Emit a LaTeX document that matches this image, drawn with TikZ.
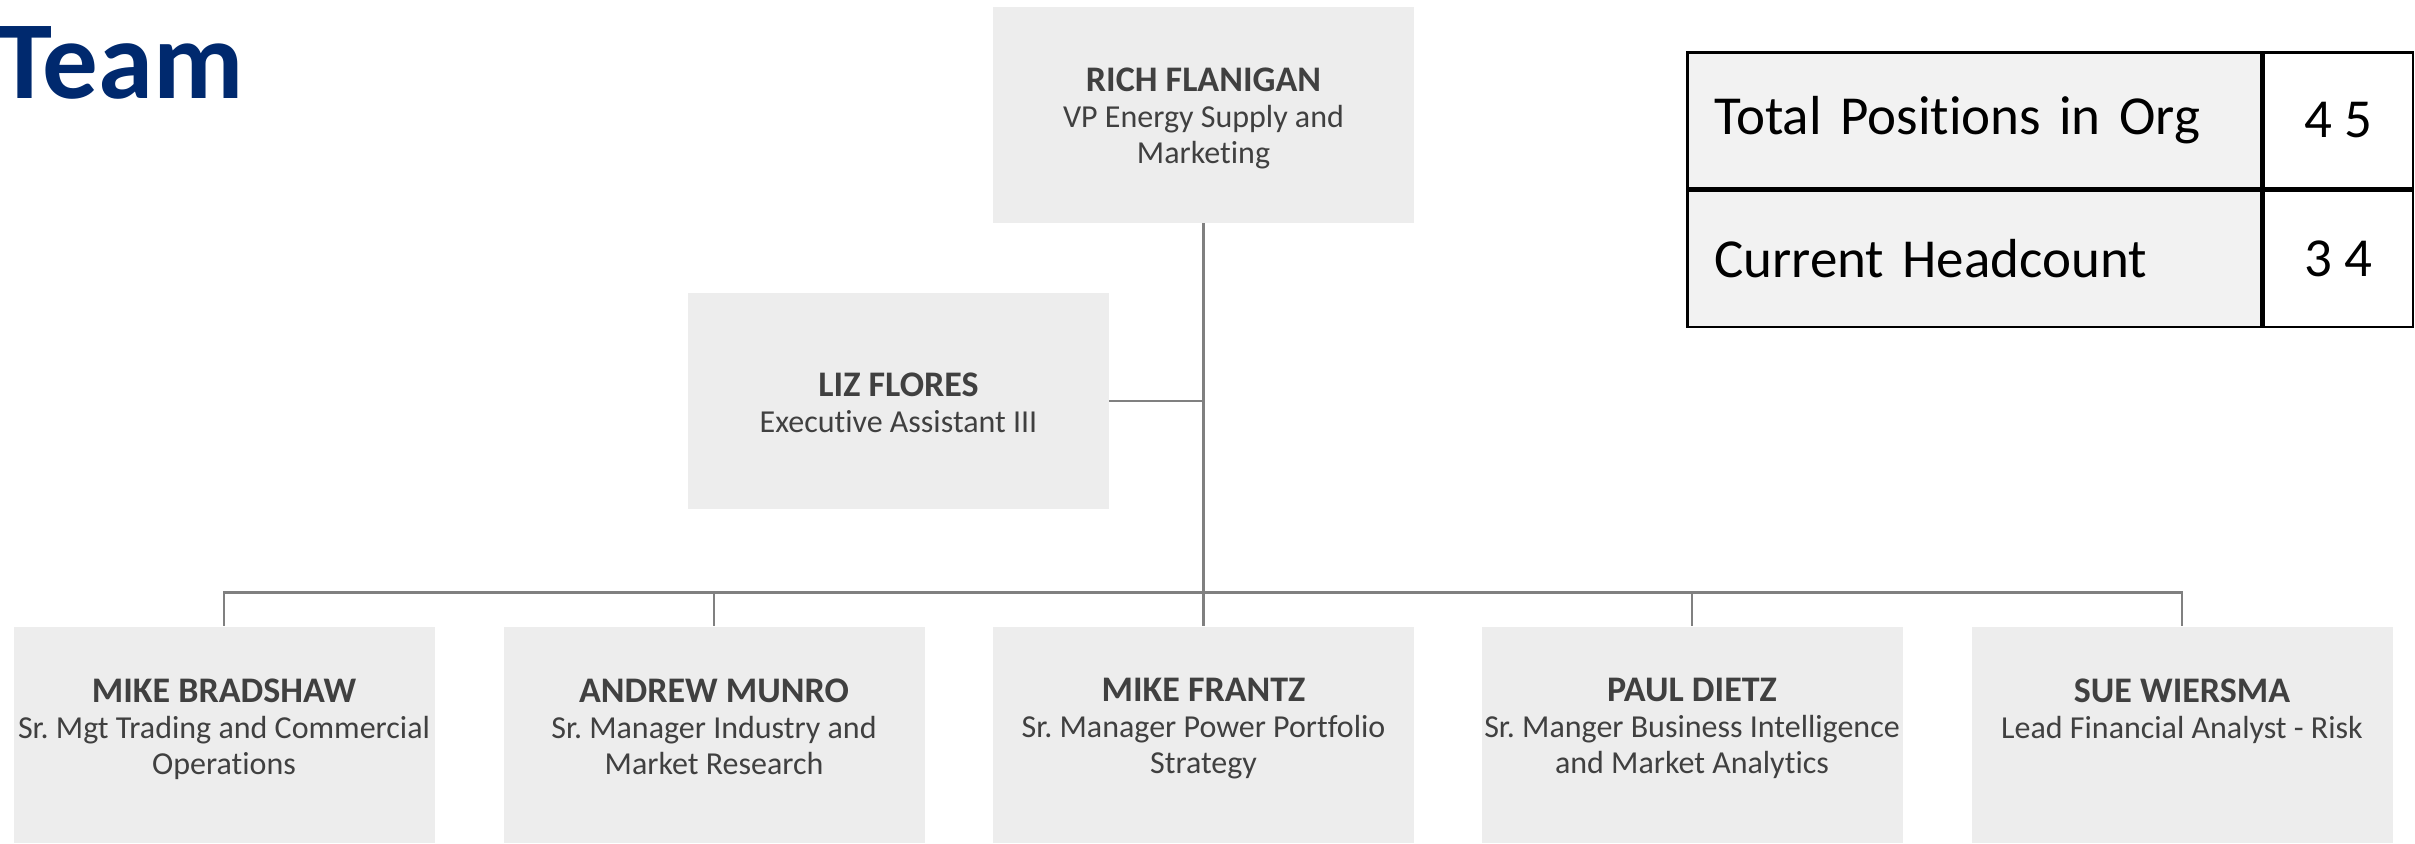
\documentclass[tikz,border=0pt]{standalone}
\usepackage{fontspec}
\setmainfont{Carlito}[Ligatures=NoCommon]
\usetikzlibrary{positioning}
\frenchspacing

\definecolor{teamblue}{RGB}{0,41,110}
\definecolor{cardfill}{RGB}{237,237,237}
\definecolor{cardink}{RGB}{64,64,64}
\definecolor{linkgray}{RGB}{128,128,128}
\definecolor{cellfill}{RGB}{242,242,242}

\newcommand{\who}[1]{{\fontsize{18}{18}\selectfont\bfseries #1}}

\tikzset{
  card/.style={fill=cardfill, draw=none, minimum width=210.5pt, minimum height=108pt, inner sep=0pt},
  cardtext/.style={text=cardink, align=center, inner sep=0pt, font=\fontsize{16}{18}\selectfont},
  link/.style={draw=linkgray, line width=1.25pt},
  cell/.style={draw=black, line width=1.3pt, fill=cellfill, minimum height=68pt, text width=260pt, inner xsep=13.5pt, align=left, font=\fontsize{27.5}{30}\selectfont},
  numcell/.style={draw=black, line width=1.3pt, fill=white, minimum height=68pt, minimum width=74.5pt, inner xsep=0pt, font=\fontsize{27.5}{30}\selectfont}
}

\begin{document}
\begin{tikzpicture}[x=0.5pt,y=0.5pt,yscale=-1,xscale=1]
\useasboundingbox (0,0) rectangle (2415,844);

% Title
\node [anchor=base west, inner sep=0pt, text=teamblue, font=\fontsize{55.5}{56}\selectfont\bfseries] (title) at (-3,99) {Team};

% Head of the team
\node [card] (rf) at (1203.5,115) {};
\node [cardtext] (rftxt) at (1203.5,118) {\who{RICH FLANIGAN}\\VP Energy Supply and\\Marketing};

% Assistant
\node [card] (lf) at (898.5,401) {};
\node [cardtext] (lftxt) at (898.5,403) {\who{LIZ FLORES}\\Executive Assistant III};

% Connectors from the head
\path (rf.south) ++(0,369) coordinate (bus);
\draw [link] (rf.south) -- (bus);
\draw [link] (lf.east) -- (lf.east -| rf.south);

% Direct reports
\foreach \i/\cx/\nm/\ttl in {
  mb/224/MIKE BRADSHAW/{Sr. Mgt Trading and Commercial\\Operations},
  am/714/ANDREW MUNRO/{Sr. Manager Industry and\\Market Research},
  mf/1203.5/MIKE FRANTZ/{Sr. Manager Power Portfolio\\Strategy},
  pd/1692/PAUL DIETZ/{Sr. Manger Business Intelligence\\and Market Analytics},
  sw/2182/SUE WIERSMA/{Lead Financial Analyst - Risk}}{
  \node [card] (\i) at (\cx,734.5) {};
  \node [cardtext, anchor=north] (\i txt) at ([yshift=26pt]\i.north) {\who{\nm}\\\ttl};
  \draw [link] (bus) -| (\i.north);
}

% Headcount table
\node [cell, anchor=north west] (tpos) at (1686,51) {Total Positions in Org};
\node [numcell, right=0pt of tpos] (tnum) {4 5};
\node [cell, below=0pt of tpos] (chead) {Current Headcount};
\node [numcell, right=0pt of chead] (cnum) {3 4};

\end{tikzpicture}
\end{document}
